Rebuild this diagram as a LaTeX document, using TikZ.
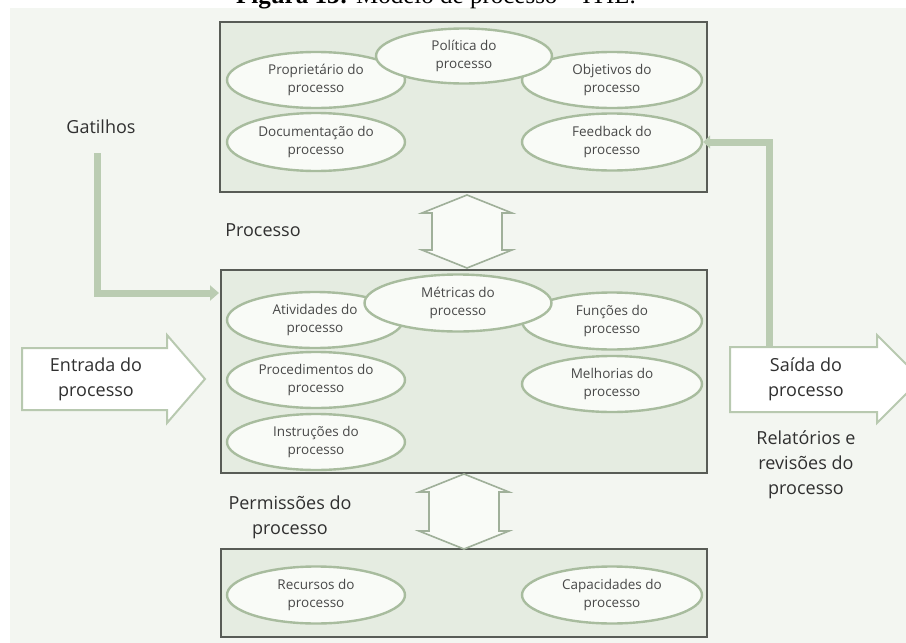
\documentclass[tikz,border=0pt]{standalone}
\usepackage{fontspec}
\setmainfont{Liberation Serif}
\newfontfamily\sanslabel{Open Sans}
\usetikzlibrary{shapes.geometric,arrows.meta,calc}

\definecolor{bgpale}{RGB}{243,246,241}
\definecolor{panelfill}{RGB}{229,236,225}
\definecolor{panelline}{RGB}{88,92,86}
\definecolor{ovalfill}{RGB}{249,251,247}
\definecolor{ovalline}{RGB}{168,188,158}
\definecolor{flow}{RGB}{186,204,178}
\definecolor{blockline}{RGB}{184,201,176}
\definecolor{twowayline}{RGB}{160,176,154}
\definecolor{txtdark}{RGB}{48,48,48}
\definecolor{txtoval}{RGB}{72,72,72}

\tikzset{
  panel/.style={draw=panelline, line width=2.5pt, fill=panelfill, inner sep=0pt},
  oval/.style={ellipse, draw=ovalline, line width=2.4pt, fill=ovalfill, inner sep=0pt,
    minimum width=178pt, minimum height=56pt, align=center, text=txtoval,
    font=\sanslabel\fontsize{13.5}{18.5}\selectfont},
  outer/.style={inner sep=0pt, align=center, text=txtdark,
    font=\sanslabel\fontsize{18}{25}\selectfont},
  flowline/.style={draw=flow, line width=7pt},
  blockarrow/.style={draw=blockline, line width=2pt, fill=white, line join=miter},
  twoway/.style={draw=twowayline, line width=1.6pt, fill=ovalfill, line join=miter}
}

% vertical two-headed block arrow between an upper tip #1 and a lower tip #2
\newcommand\twowayarrow[2]{%
  \draw[twoway] (#1) -- ($(#1)+(45,18)$) -- ($(#1)+(35,18)$) -- ($(#2)+(35,-18)$)
    -- ($(#2)+(45,-18)$) -- (#2) -- ($(#2)+(-45,-18)$) -- ($(#2)+(-35,-18)$)
    -- ($(#1)+(-35,18)$) -- ($(#1)+(-45,18)$) -- cycle;}

\begin{document}
\begin{tikzpicture}[x=1pt,y=-1pt]
\useasboundingbox (0,0) rectangle (906,643);
\fill[white] (0,0) rectangle (906,643);
\fill[bgpale] (10,8) rectangle (906,643);

% caption line, running over the page's top edge
\node[anchor=base, font=\fontsize{25}{25}\selectfont, inner sep=0pt] (caption) at (436,3)
  {\textbf{Figura 13:} Modelo de processo – ITIL.};

% three panels
\node[panel, minimum width=487pt, minimum height=170pt] (toppanel) at (463.5,107) {};
\node[panel, minimum width=486pt, minimum height=203pt] (midpanel) at (464,371.5) {};
\node[panel, minimum width=486pt, minimum height=88pt]  (botpanel) at (464,593) {};

% top panel ovals
\node[oval] (owner) at (316,80) {Proprietário do\\processo};
\node[oval, minimum width=180pt] (goals) at (612,80) {Objetivos do\\processo};
\node[oval, minimum height=58pt] (docs) at (316,142) {Documentação do\\processo};
\node[oval, minimum width=180pt, minimum height=57pt] (feedback) at (612,142) {Feedback do\\processo};
\node[oval, minimum width=176pt, minimum height=55pt] (policy) at (464,56) {Política do\\processo};

% middle panel ovals
\node[oval, minimum width=176pt] (activities) at (315,320) {Atividades do\\processo};
\node[oval, minimum width=180pt, minimum height=57pt] (roles) at (612,321) {Funções do\\processo};
\node[oval] (procedures) at (316,380) {Procedimentos do\\processo};
\node[oval, minimum width=180pt] (improve) at (612,384) {Melhorias do\\processo};
\node[oval] (instructions) at (316,442) {Instruções do\\processo};
\node[oval, minimum width=187pt, minimum height=57pt] (metrics) at (458,303) {Métricas do\\processo};

% bottom panel ovals
\node[oval, minimum height=57pt] (resources) at (316,595) {Recursos do\\processo};
\node[oval, minimum width=180pt, minimum height=57pt] (capab) at (612,595) {Capacidades do\\processo};

% two-way arrows between panels
\coordinate (ua) at (467,195);
\coordinate (ub) at (467,268);
\coordinate (la) at (464,474);
\coordinate (lb) at (464,549);
\twowayarrow{ua}{ub}
\twowayarrow{la}{lb}

% input and output block arrows
\draw[blockarrow] (22,348) -- (167,348) -- (167,335) -- (205,379) -- (167,423)
  -- (167,410) -- (22,410) -- cycle;
\draw[blockarrow] (730,347) -- (877,347) -- (877,335) -- (921,379) -- (877,423)
  -- (877,412) -- (730,412) -- cycle;
\node[outer] (input) at (96,379) {Entrada do\\processo};
\node[outer] (output) at (806,379) {Saída do\\processo};

% free labels
\node[outer] (triggers) at (101,127) {Gatilhos};
\node[outer] (proclabel) at (263,230) {Processo};
\node[outer] (perms) at (290,517) {Permissões do\\processo};
\node[outer] (reports) at (806,465) {Relatórios e\\revisões do\\processo};

% thick flow connectors
\coordinate (trigstart) at (97,153);
\coordinate (trigend) at (219,293);
\draw[flowline, -{Triangle[length=9pt,width=15pt]}] (trigstart) |- (trigend);
\coordinate (outtop) at (769,346);
\draw[flowline, -{Triangle[length=7pt,width=13pt]}] (outtop) |- (feedback.east);
\end{tikzpicture}
\end{document}
